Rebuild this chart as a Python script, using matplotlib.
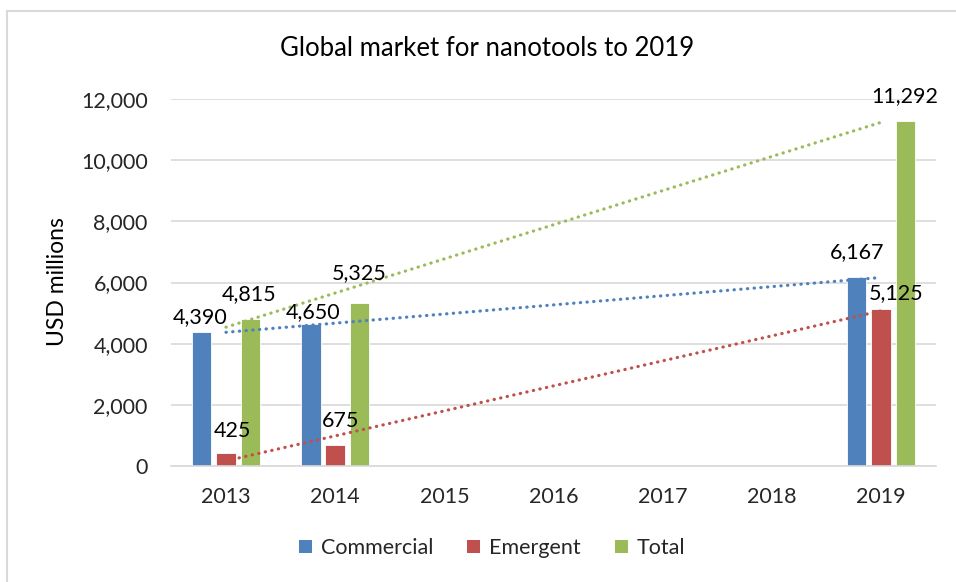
import numpy as np
import matplotlib
matplotlib.use("Agg")
import matplotlib.pyplot as plt
from matplotlib.patches import Patch, Rectangle

# Chart data
years = ["2013", "2014", "2015", "2016", "2017", "2018", "2019"]
commercial = [4390, 4650, np.nan, np.nan, np.nan, np.nan, 6167]
emergent = [425, 675, np.nan, np.nan, np.nan, np.nan, 5125]
total = [4815, 5325, np.nan, np.nan, np.nan, np.nan, 11292]
series_names = ["Commercial", "Emergent", "Total"]
colors = ["#4F81BD", "#C0504D", "#9BBB59"]

# label nudges in pixels (dx, dy above bar top), as placed in the original
label_nudge = {
    "Commercial": [(-2, 9), (2, 6), None, None, None, None, (0, 19)],
    "Emergent": [(6, 16), (5, 18), None, None, None, None, (15, 10)],
    "Total": [(-1, 19), (0, 24), None, None, None, None, (-1, 19)],
}

plt.rcParams["font.family"] = ["Lato", "DejaVu Sans"]
text_color = "#262626"

fig = plt.figure(figsize=(9.56, 5.82), dpi=100)
ax = fig.add_axes([171.4 / 956, 116 / 582, 764.2 / 956, 367 / 582])

x = np.arange(len(years))
width = 0.177
pitch = 0.2226
all_series = [commercial, emergent, total]

for i, (name, vals, col) in enumerate(zip(series_names, all_series, colors)):
    vals = np.array(vals, dtype=float)
    xpos = x + (i - 1) * pitch
    ax.bar(xpos, vals, width=width, color=col, edgecolor="white", linewidth=0.6, zorder=2)

    # linear trendline through the category centres
    ok = ~np.isnan(vals)
    k, b = np.polyfit(x[ok], vals[ok], 1)
    xs = np.array([x[ok][0], x[ok][-1]])
    ax.plot(xs, k * xs + b, color=col, linewidth=2.3, linestyle=(0, (0.1, 2.0)),
            dash_capstyle="round", zorder=3)

    for j, v in enumerate(vals):
        if np.isnan(v):
            continue
        dx, dy = label_nudge[name][j]
        ax.annotate(f"{int(v):,}", (xpos[j], v), xytext=(dx * 0.72, dy * 0.72),
                    textcoords="offset points", ha="center", va="baseline",
                    fontsize=15.5, color="#000000", zorder=4)

ax.set_xlim(-0.5, len(years) - 0.5)
ax.set_ylim(0, 12000)
ax.set_yticks(np.arange(0, 12001, 2000))
ax.set_yticklabels([f"{t:,}" for t in range(0, 12001, 2000)])
ax.set_xticks(x)
ax.set_xticklabels(years)
ax.tick_params(axis="y", length=0, pad=17, labelsize=15.5, labelcolor=text_color)
ax.tick_params(axis="x", length=0, pad=15, labelsize=15.5, labelcolor=text_color)
ax.grid(axis="y", color="#D9D9D9", linewidth=1.2, zorder=0)
ax.set_axisbelow(True)
for s in ["top", "right", "left"]:
    ax.spines[s].set_visible(False)
ax.spines["bottom"].set_color("#D9D9D9")
ax.spines["bottom"].set_linewidth(1.2)

fig.text(487 / 956, 1 - 48 / 582, "Global market for nanotools to 2019",
         ha="center", va="center", fontsize=18.5, color="#000000")
fig.text(57 / 956, 1 - 282 / 582, "USD millions", rotation=90,
         ha="center", va="center", fontsize=16.5, color="#000000")

handles = [Patch(facecolor=c, edgecolor="none") for c in colors]
fig.legend(handles, series_names, loc="center", bbox_to_anchor=(492 / 956, 1 - 548 / 582),
           ncol=3, frameon=False, fontsize=15.5, handlelength=0.6, handleheight=0.6,
           handletextpad=0.4, columnspacing=1.6, labelcolor=text_color)

# outer chart border
fig.add_artist(Rectangle((6.5 / 956, -0.05), 1.2, 0.05 + 571 / 582, transform=fig.transFigure,
                         fill=False, edgecolor="#D9D9D9", linewidth=1.5))

fig.savefig("out.png", dpi=100)
